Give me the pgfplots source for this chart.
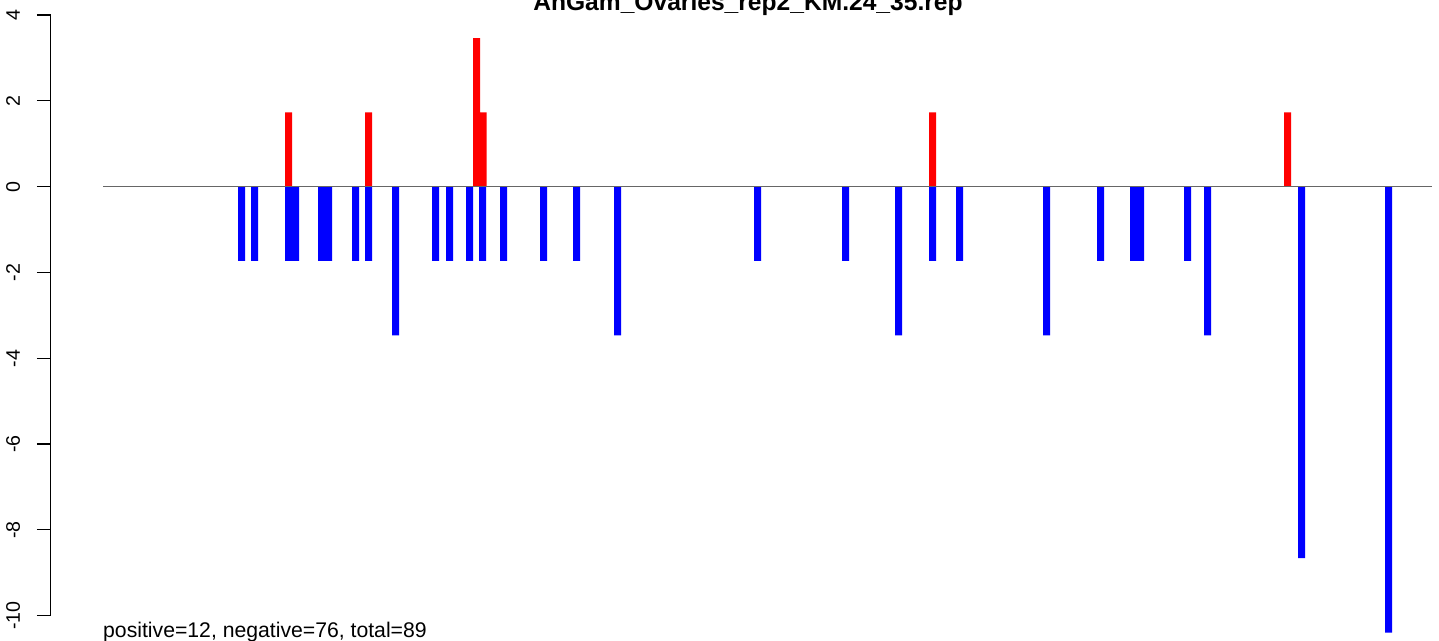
\documentclass[border=0pt]{standalone}
\usepackage{fontspec}
\setmainfont{Liberation Sans}
\usepackage{pgfplots}
\pgfplotsset{compat=1.18}
\definecolor{zl}{rgb}{0.4,0.4,0.4}
\begin{document}
\begin{tikzpicture}
\begin{axis}[
  scale only axis, width=1388.3bp, height=641bp,
  xmin=50.7, xmax=1439, ymin=-10.59, ymax=4.352,
  clip=false,
  axis x line=none,
  axis y line*=left,
  y axis line style={draw=none},
  xtick=\empty,
  ytick={-10,-8,-6,-4,-2,0,2,4},
  yticklabels={-10,-8,-6,-4,-2,0,2,4},
  tick align=outside,
  major tick length=13.7bp,
  every tick/.style={black, line width=1.2bp},
  yticklabel style={xshift=-17bp, rotate=90, anchor=base, inner sep=0pt, font=\fontsize{19.6bp}{22bp}\selectfont},
]
\draw[line width=1.2bp] (axis cs:50.7,-10) -- (axis cs:50.7,4);
\addplot[ybar, bar width=7, bar shift=0pt, fill=blue, draw=none] coordinates {
(241.5,-1.7321) (254.5,-1.7321) (288.5,-1.7321) (295.5,-1.7321) (321.5,-1.7321) (328.5,-1.7321)
(355.5,-1.7321) (368.5,-1.7321) (395.5,-3.4641) (435.5,-1.7321) (449.5,-1.7321) (469.5,-1.7321)
(482.5,-1.7321) (503.5,-1.7321) (543.5,-1.7321) (576.5,-1.7321) (617.5,-3.4641) (757.5,-1.7321)
(845.5,-1.7321) (898.5,-3.4641) (932.5,-1.7321) (959.5,-1.7321) (1046.5,-3.4641) (1100.5,-1.7321)
(1133.5,-1.7321) (1140.5,-1.7321) (1187.5,-1.7321) (1207.5,-3.4641) (1301.5,-8.6603) (1388.5,-10.3923)
};
\addplot[ybar, bar width=7, bar shift=0pt, fill=red, draw=none] coordinates {
(288.5,1.7321) (368.5,1.7321) (483,1.7321) (476.5,3.4641) (932.5,1.7321) (1287.5,1.7321)
};
\addplot[draw=zl, line width=1bp] coordinates {(103,0) (1432,0)};
\node[anchor=base, inner sep=0pt, font=\bfseries\fontsize{24.6bp}{28bp}\selectfont] at (axis cs:748,4.096) {AnGam\_Ovaries\_rep2\_KM.24\_35.rep};
\node[anchor=base west, inner sep=0pt, font=\fontsize{21.2bp}{24bp}\selectfont] at (axis cs:103,-10.497) {positive=12, negative=76, total=89};
\coordinate (bl) at (axis cs:0,-10.59);
\coordinate (tr) at (axis cs:1439,4.352);
\end{axis}
\pgfresetboundingbox
\path[use as bounding box] (bl) rectangle (tr);
\end{tikzpicture}
\end{document}
